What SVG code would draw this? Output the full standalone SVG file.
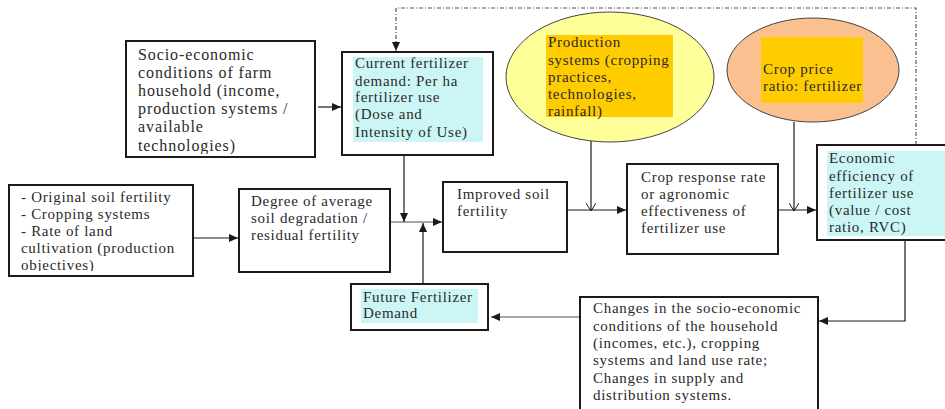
<svg xmlns="http://www.w3.org/2000/svg" width="945" height="409" viewBox="0 0 945 409">
<style>
.box{fill:#fff;stroke:#1a1a1a;stroke-width:2}
.hl{fill:#ccf6f6}
.or{fill:#ffcc00}
.t{font-family:'Liberation Serif','Times New Roman',Tinos,'DejaVu Serif',serif;font-size:15px;letter-spacing:0.7px;fill:#2a2a2a}
.t18{font-size:16px;letter-spacing:0.9px}
.ln{fill:none;stroke:#1a1a1a;stroke-width:1.2}
.lg{fill:none;stroke:#888;stroke-width:1.5}
.dash{fill:none;stroke:#555;stroke-width:1.2;stroke-dasharray:4 2 1 2}
</style>
<defs>
<marker id="a" viewBox="0 0 9 8" refX="9" refY="4" markerWidth="9" markerHeight="8" markerUnits="userSpaceOnUse" orient="auto"><path d="M0,0 L9,4 L0,8 z" fill="#1a1a1a"/></marker>
<marker id="v" viewBox="0 0 8 10" refX="8" refY="5" markerWidth="8" markerHeight="10" markerUnits="userSpaceOnUse" orient="auto"><path d="M0,0 L8,5 L0,10" fill="none" stroke="#1a1a1a" stroke-width="1"/></marker>
<clipPath id="c1"><rect x="126" y="41" width="189" height="113"/></clipPath>
<clipPath id="c2"><rect x="9" y="185" width="184" height="86"/></clipPath>
</defs>

<g id="connectors">
<polyline class="dash" points="916,145 916,8 396,8 396,51" marker-end="url(#a)"/>
<line class="ln" x1="318" y1="107" x2="341" y2="107" marker-end="url(#a)"/>
<line class="ln" x1="193" y1="238" x2="238" y2="238" marker-end="url(#a)"/>
<line class="lg" x1="390" y1="222" x2="442" y2="222" marker-end="url(#a)"/>
<line class="ln" x1="404" y1="155" x2="404" y2="222" marker-end="url(#a)"/>
<line class="ln" x1="423" y1="284" x2="423" y2="223" marker-end="url(#a)"/>
<line class="ln" x1="567" y1="210" x2="626" y2="210" marker-end="url(#a)"/>
<line class="ln" x1="591" y1="141" x2="591" y2="211" marker-end="url(#v)"/>
<line class="ln" x1="778" y1="210" x2="816" y2="210" marker-end="url(#a)"/>
<line class="ln" x1="794" y1="122" x2="794" y2="211" marker-end="url(#v)"/>
<polyline class="ln" points="905,241 905,321 819,321" marker-end="url(#a)"/>
<line class="lg" x1="580" y1="317" x2="491" y2="317" marker-end="url(#a)"/>
</g>

<g id="socio">
<rect class="box" x="126" y="41" width="189" height="116"/>
<text class="t t18" clip-path="url(#c1)"><tspan x="138" y="60">Socio-economic</tspan><tspan x="138" y="78">conditions of farm</tspan><tspan x="138" y="96">household (income,</tspan><tspan x="138" y="114">production systems /</tspan><tspan x="138" y="132">available</tspan><tspan x="138" y="151">technologies)</tspan></text>
</g>

<g id="current">
<rect class="box" x="342" y="52" width="151" height="103"/>
<rect class="hl" x="353" y="57" width="130" height="85"/>
<text class="t"><tspan x="355" y="68">Current fertilizer</tspan><tspan x="355" y="86">demand: Per ha</tspan><tspan x="355" y="102">fertilizer use</tspan><tspan x="355" y="119">(Dose and</tspan><tspan x="355" y="137">Intensity of Use)</tspan></text>
</g>

<g id="production">
<ellipse cx="610" cy="77" rx="104" ry="65" fill="#ffff99" stroke="#444" stroke-width="1"/>
<rect class="or" x="546" y="35" width="127" height="82"/>
<text class="t"><tspan x="548" y="47">Production</tspan><tspan x="548" y="65">systems (cropping</tspan><tspan x="548" y="82">practices,</tspan><tspan x="548" y="99">technologies,</tspan><tspan x="548" y="116">rainfall)</tspan></text>
</g>

<g id="price">
<ellipse cx="813" cy="70" rx="86" ry="52" fill="#fac08f" stroke="#444" stroke-width="1"/>
<rect class="or" x="761" y="37" width="102" height="66"/>
<text class="t"><tspan x="763" y="74">Crop price</tspan><tspan x="763" y="91">ratio: fertilizer</tspan></text>
</g>

<g id="original">
<rect class="box" x="9" y="185" width="184" height="91"/>
<text class="t" clip-path="url(#c2)"><tspan x="21" y="202">- Original soil fertility</tspan><tspan x="21" y="219">- Cropping systems</tspan><tspan x="21" y="236">- Rate of land</tspan><tspan x="21" y="253">cultivation (production</tspan><tspan x="21" y="270">objectives)</tspan></text>
</g>

<g id="degree">
<rect class="box" x="239" y="189" width="151" height="83"/>
<text class="t"><tspan x="251" y="206">Degree of average</tspan><tspan x="251" y="223">soil degradation /</tspan><tspan x="251" y="240">residual fertility</tspan></text>
</g>

<g id="improved">
<rect class="box" x="443" y="182" width="124" height="70"/>
<text class="t"><tspan x="457" y="199">Improved soil</tspan><tspan x="457" y="216">fertility</tspan></text>
</g>

<g id="response">
<rect class="box" x="627" y="164" width="151" height="90"/>
<text class="t"><tspan x="641" y="182">Crop response rate</tspan><tspan x="641" y="199">or agronomic</tspan><tspan x="641" y="216">effectiveness of</tspan><tspan x="641" y="233">fertilizer use</tspan></text>
</g>

<g id="economic">
<rect class="box" x="817" y="145" width="140" height="95"/>
<rect class="hl" x="827" y="151" width="120" height="85"/>
<text class="t"><tspan x="829" y="163">Economic</tspan><tspan x="829" y="181">efficiency of</tspan><tspan x="829" y="198">fertilizer use</tspan><tspan x="829" y="215">(value / cost</tspan><tspan x="829" y="232">ratio, RVC)</tspan></text>
</g>

<g id="future">
<rect class="box" x="351" y="284" width="137" height="46"/>
<rect class="hl" x="361" y="289" width="117" height="34"/>
<text class="t"><tspan x="363" y="302">Future Fertilizer</tspan><tspan x="363" y="318">Demand</tspan></text>
</g>

<g id="changes">
<rect class="box" x="580" y="297" width="238" height="125"/>
<text class="t"><tspan x="593" y="313">Changes in the socio-economic</tspan><tspan x="593" y="331">conditions of the household</tspan><tspan x="593" y="348">(incomes, etc.), cropping</tspan><tspan x="593" y="365">systems and land use rate;</tspan><tspan x="593" y="383">Changes in supply and</tspan><tspan x="593" y="400">distribution systems.</tspan></text>
</g>
</svg>
